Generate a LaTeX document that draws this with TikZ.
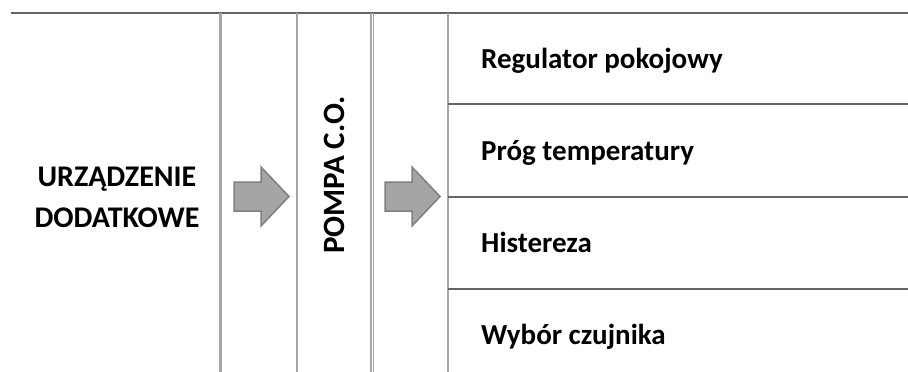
\documentclass[tikz,border=0pt]{standalone}
\usepackage{fontspec}
\setmainfont{Carlito}[BoldFont={Carlito Bold}]
\usetikzlibrary{positioning}
\definecolor{rulegray}{HTML}{646464}
\definecolor{colgray}{HTML}{A6A6A6}
\definecolor{arrfill}{HTML}{A5A5A5}
\definecolor{arredge}{HTML}{7F7F7F}

\begin{document}
\begin{tikzpicture}[x=1pt, y=-1pt,
  hline/.style={draw=rulegray, line width=1.4pt},
  vline/.style={draw=colgray, line width=2pt},
  big/.style={font=\bfseries\fontsize{30}{36}\selectfont, inner sep=0pt, anchor=base},
  item/.style={font=\bfseries\fontsize{29}{34}\selectfont, inner sep=0pt, anchor=base west},
  blk/.style={fill=arrfill, draw=arredge, line width=1.5pt, line join=miter}]
  \useasboundingbox (0,0) rectangle (908,372);
  % table rules
  \draw[hline] (11,13) -- (908,13);
  \draw[vline, line width=3.5pt] (220.5,13) -- (220.5,372);
  \draw[vline] (297,13) -- (297,372);
  \draw[vline, line width=1.3pt] (371,13) -- (371,372);
  \draw[vline, line width=1.3pt] (373.8,13) -- (373.8,372);
  \draw[vline] (448,13) -- (448,372);
  \foreach \y in {104,197,289}
    \draw[hline] (448,\y) -- (908,\y);
  % block arrows
  \foreach \x in {234,385}
    \draw[blk] (\x,182) -- (\x+27,182) -- (\x+27,167) -- (\x+55,196.5)
      -- (\x+27,226) -- (\x+27,211) -- (\x,211) -- cycle;
  % texts
  \node[big] (device) at (117,186.5) {URZĄDZENIE};
  \node[big] (extra) at (117,227.5) {DODATKOWE};
  \node[big, anchor=center, font=\bfseries\fontsize{31}{36}\selectfont, rotate=90] (pump) at (334,175) {POMPA C.O.};
  \node[item] (room) at (481,68) {Regulator pokojowy};
  \node[item] (thresh) at (481,160) {Próg temperatury};
  \node[item] (hyst) at (481,252) {Histereza};
  \node[item] (sensor) at (481,344) {Wybór czujnika};
\end{tikzpicture}
\end{document}
